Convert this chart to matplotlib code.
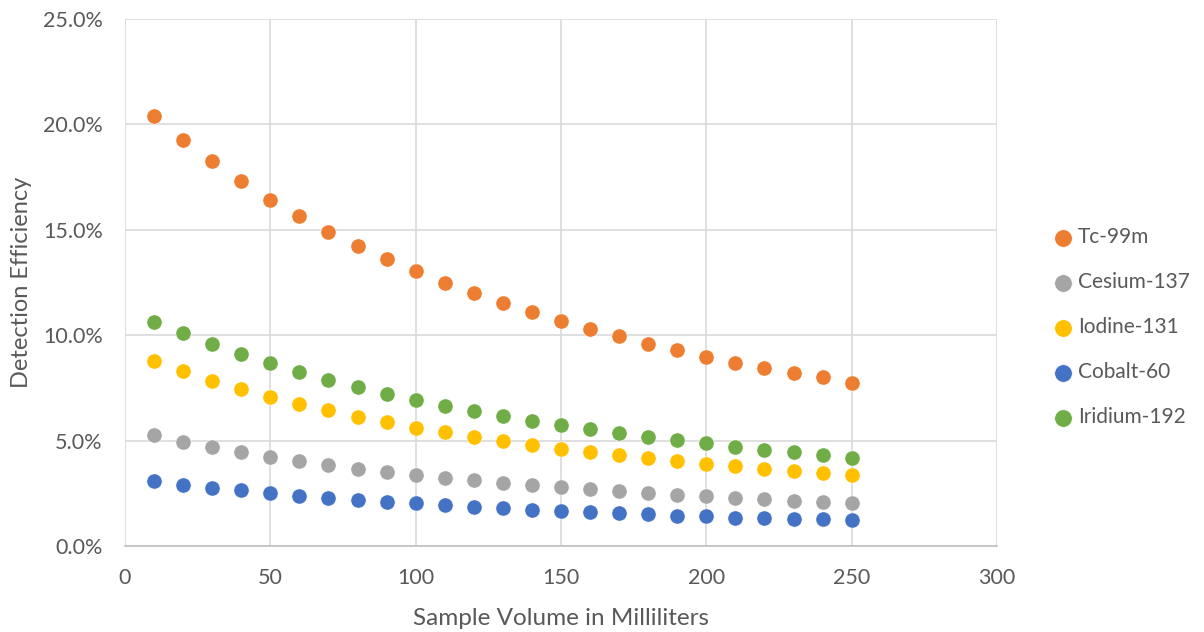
import numpy as np
import matplotlib.pyplot as plt
from matplotlib.ticker import PercentFormatter

plt.rcParams['font.family'] = ['Lato', 'DejaVu Sans']

volume = [10, 20, 30, 40, 50, 60, 70, 80, 90, 100, 110, 120, 130,
          140, 150, 160, 170, 180, 190, 200, 210, 220, 230, 240, 250]

tc99m = [20.38, 19.27, 18.25, 17.33, 16.43, 15.65, 14.91, 14.23, 13.60, 13.05,
         12.47, 11.99, 11.54, 11.08, 10.66, 10.29, 9.95, 9.58, 9.28, 8.98,
         8.70, 8.44, 8.21, 8.00, 7.72]
cesium137 = [5.25, 4.95, 4.70, 4.46, 4.24, 4.03, 3.86, 3.67, 3.51, 3.38,
             3.24, 3.12, 3.00, 2.89, 2.78, 2.69, 2.59, 2.51, 2.43, 2.36,
             2.28, 2.22, 2.15, 2.09, 2.03]
iodine131 = [8.78, 8.29, 7.83, 7.43, 7.05, 6.72, 6.44, 6.13, 5.87, 5.61,
             5.39, 5.17, 4.97, 4.78, 4.62, 4.46, 4.30, 4.16, 4.03, 3.91,
             3.78, 3.67, 3.56, 3.45, 3.35]
cobalt60 = [3.08, 2.91, 2.75, 2.64, 2.50, 2.39, 2.28, 2.20, 2.10, 2.03,
            1.93, 1.85, 1.79, 1.72, 1.67, 1.60, 1.57, 1.50, 1.44, 1.41,
            1.34, 1.31, 1.28, 1.27, 1.23]
iridium192 = [10.64, 10.09, 9.58, 9.11, 8.67, 8.27, 7.89, 7.54, 7.23, 6.94,
              6.66, 6.40, 6.17, 5.93, 5.74, 5.53, 5.35, 5.17, 5.01, 4.87,
              4.70, 4.57, 4.44, 4.30, 4.19]

series = [
    ('Tc-99m', tc99m, '#ED7D31'),
    ('Cesium-137', cesium137, '#A5A5A5'),
    ('Iodine-131', iodine131, '#FFC000'),
    ('Cobalt-60', cobalt60, '#4472C4'),
    ('Iridium-192', iridium192, '#70AD47'),
]

fig = plt.figure(figsize=(12.04, 6.32), dpi=100)
ax = fig.add_axes([125/1204, 1-546/632, (997-125)/1204, (546-19)/632])

for name, vals, col in series:
    ax.scatter(volume, vals, s=120, color=col, edgecolors='white',
               linewidths=0.4, label=name, zorder=3)

ax.set_xlim(0, 300)
ax.set_ylim(0, 25)
ax.set_xticks(np.arange(0, 301, 50))
ax.set_yticks(np.arange(0, 25.1, 5))
ax.yaxis.set_major_formatter(PercentFormatter(decimals=1))
ax.grid(True, color='#D9D9D9', linewidth=1.2, zorder=0)
ax.set_axisbelow(True)
for s in ['top', 'right', 'left']:
    ax.spines[s].set_visible(False)
ax.spines['bottom'].set_color('#BFBFBF')
ax.spines['bottom'].set_linewidth(1.2)
ax.tick_params(length=0, labelsize=15.5, colors='#595959')
ax.tick_params(axis='x', pad=16)
ax.tick_params(axis='y', pad=16)

ax.set_xlabel('Sample Volume in Milliliters', fontsize=17.5, color='#595959', labelpad=14)
ax.set_ylabel('Detection Efficiency', fontsize=17, color='#595959', labelpad=8)

handles, labels = ax.get_legend_handles_labels()
fig.legend(handles, labels, loc='center left', bbox_to_anchor=(1053/1204, 1-327/632),
           frameon=False, fontsize=15, labelcolor='#595959', handlelength=1.0,
           handletextpad=0.2, labelspacing=1.2, borderpad=0, borderaxespad=0,
           markerscale=1.15)

fig.savefig('out.png', dpi=100)
